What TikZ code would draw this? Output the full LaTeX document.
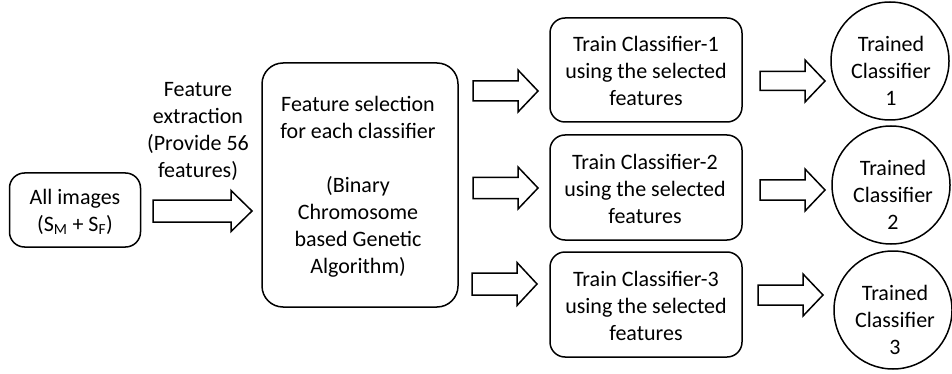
\documentclass[tikz,border=0pt]{standalone}
\usepackage{fontspec}
\setmainfont{Carlito}
\usetikzlibrary{calc}
\newcommand\barrow[6]{% x1, xhead, x2, yc, shaft half, head half
  \draw[arrline] (#1,{#4-#5}) -- (#2,{#4-#5}) -- (#2,{#4-#6}) -- (#3,#4) -- (#2,{#4+#6}) -- (#2,{#4+#5}) -- (#1,{#4+#5}) -- cycle;}
\begin{document}
\begin{tikzpicture}[x=1pt,y=-1pt,
  txt/.style={font=\fontsize{22}{27}\selectfont, align=center, inner sep=0pt},
  box/.style={draw, line width=1.5pt, rounded corners=15pt, inner sep=0pt},
  circ/.style={draw, line width=1.5pt, circle, minimum size=118pt, inner sep=0pt},
  arrline/.style={draw, line width=1.5pt, line join=miter}]
\useasboundingbox (0,0) rectangle (952,374);
% boxes
\node[box, minimum width=131pt, minimum height=74pt] (imgs) at (75,210) {};
\node[txt] (imgst) at (75,212) {All images\\(S\textsubscript{M} + S\textsubscript{F})};
\node[txt] (fe) at (198,131) {Feature\\extraction\\(Provide 56\\features)};
\node[box, rounded corners=21pt, minimum width=196pt, minimum height=244pt] (fs) at (360,185) {};
\node[txt] (fst) at (358,187) {Feature selection\\for each classifier\\[27pt](Binary\\Chromosome\\based Genetic\\Algorithm)};
\node[box, minimum width=192pt, minimum height=104pt] (t1) at (646,70) {};
\node[txt] at (646,71) {Train Classifier-1\\using the selected\\features};
\node[box, minimum width=192pt, minimum height=105pt] (t2) at (646,187.5) {};
\node[txt] at (645,189) {Train Classifier-2\\using the selected\\features};
\node[box, minimum width=192pt, minimum height=105pt] (t3) at (646,304.5) {};
\node[txt] at (646,306) {Train Classifier-3\\using the selected\\features};
\node[circ] (c1) at (890,61) {};
\node[txt] at (891,71) {Trained\\Classifier\\1};
\node[circ] (c2) at (891,185) {};
\node[txt] at (893,195) {Trained\\Classifier\\2};
\node[circ] (c3) at (893,310) {};
\node[txt] at (895,320) {Trained\\Classifier\\3};
% block arrows
\barrow{153}{231}{252}{211}{11}{20.5}
\barrow{473}{518}{538}{91}{10}{21}
\barrow{473}{518}{538}{188}{10.5}{21}
\barrow{472}{517}{537}{284}{11}{21.5}
\barrow{760}{805}{825}{81}{9.5}{21}
\barrow{760}{805}{825}{190}{10}{21}
\barrow{758}{803}{823}{295}{10}{21}
\end{tikzpicture}
\end{document}
